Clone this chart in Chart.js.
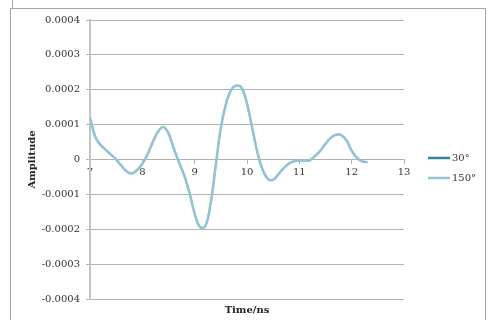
<!DOCTYPE html>
<html>
<head>
<meta charset="utf-8">
<script src="https://cdn.jsdelivr.net/npm/chart.js@4/dist/chart.umd.min.js"></script>
<style>
  html, body { margin:0; padding:0; background:#fff; }
  #wrap { width:491px; height:320px; position:relative; }
</style>
</head>
<body>
<div id="wrap"><canvas id="chart" width="491" height="320"></canvas></div>
<script>
// time (ns) and amplitude
const times = [7.0, 7.1, 7.2, 7.3, 7.4, 7.5, 7.6, 7.7, 7.8, 7.9,
  8.0, 8.1, 8.2, 8.3, 8.4, 8.5, 8.6, 8.7, 8.8, 8.9,
  9.0, 9.1, 9.2, 9.3, 9.4, 9.5, 9.6, 9.7, 9.8, 9.9,
  10.0, 10.1, 10.2, 10.3, 10.4, 10.5, 10.6, 10.7, 10.8, 10.9,
  11.0, 11.1, 11.2, 11.3, 11.4, 11.5, 11.6, 11.7, 11.8, 11.9,
  12.0, 12.1, 12.2, 12.3];
const amp150 = [1.2, 0.65, 0.42, 0.28, 0.14, 0.0, -0.18, -0.34, -0.4, -0.3,
  -0.12, 0.15, 0.5, 0.8, 0.93, 0.75, 0.32, -0.08, -0.45, -0.95,
  -1.55, -1.93, -1.92, -1.3, -0.2, 0.9, 1.6, 2.0, 2.12, 2.05,
  1.6, 0.9, 0.2, -0.3, -0.56, -0.58, -0.42, -0.25, -0.12, -0.05,
  -0.03, -0.03, -0.02, 0.1, 0.25, 0.45, 0.62, 0.71, 0.7, 0.55,
  0.25, 0.05, -0.05, -0.08];
const amp30 = amp150.slice();   // hidden under the 150° curve
const seriesNames = ['30°', '150°'];
const seriesColors = ['#31859c', '#93c4d3'];
const yTicks = [-0.0004, -0.0003, -0.0002, -0.0001, 0, 0.0001, 0.0002, 0.0003, 0.0004];

const serif = '"DejaVu Serif", serif';
const toPts = arr => arr.map((v, i) => ({ x: times[i], y: v * 1e-4 }));

// outer frame like the pasted document picture
const framePlugin = {
  id: 'frame',
  beforeDraw(chart) {
    const c = chart.ctx;
    c.save();
    c.strokeStyle = '#a6a6a6';
    c.lineWidth = 1;
    c.beginPath();
    c.moveTo(12.5, 0); c.lineTo(12.5, 8);
    c.moveTo(10.5, 330); c.lineTo(10.5, 8.5); c.lineTo(485.5, 8.5); c.lineTo(485.5, 330);
    c.stroke();
    c.restore();
  }
};

// legend on the right, drawn from the datasets
const legendPlugin = {
  id: 'sideLegend',
  afterDraw(chart) {
    const c = chart.ctx;
    c.save();
    c.font = '10px ' + serif;
    c.textBaseline = 'middle';
    chart.data.datasets.forEach((ds, i) => {
      const y = 158 + i * 20;
      c.strokeStyle = ds.borderColor;
      c.lineWidth = 2.5;
      c.beginPath(); c.moveTo(428, y); c.lineTo(450, y); c.stroke();
      c.fillStyle = '#333';
      c.fillText(ds.label, 452, y);
    });
    c.restore();
  }
};

new Chart(document.getElementById('chart'), {
  type: 'line',
  data: {
    datasets: [
      { label: seriesNames[0], data: toPts(amp30), borderColor: seriesColors[0], borderWidth: 1.5,
        pointRadius: 0, tension: 0.4, fill: false, order: 1 },
      { label: seriesNames[1], data: toPts(amp150), borderColor: seriesColors[1], borderWidth: 2.6,
        pointRadius: 0, tension: 0.4, fill: false, order: 0 }
    ]
  },
  options: {
    responsive: false,
    animation: false,
    layout: { padding: { left: 22, right: 87, top: 20, bottom: 0 } },
    plugins: { legend: { display: false }, tooltip: { enabled: false } },
    scales: {
      x: {
        type: 'linear', position: { y: 0 }, min: 7, max: 13,
        ticks: { stepSize: 1, padding: 3, color: '#333', font: { family: serif, size: 10 } },
        grid: { drawOnChartArea: false, tickLength: 4, color: '#b0b0b0' },
        border: { color: '#b0b0b0' }
      },
      x2: {
        type: 'linear', position: 'bottom', min: 7, max: 13,
        ticks: { display: false },
        grid: { display: false },
        border: { display: false },
        title: { display: true, text: 'Time/ns', color: '#222', padding: { top: 2, bottom: 4 },
          font: { family: serif, size: 10, weight: 'bold' } },
        afterFit(s) { s.height = 21; }
      },
      y: {
        min: -0.0004, max: 0.0004,
        afterBuildTicks(s) { s.ticks = yTicks.map(v => ({ value: v })); },
        ticks: {
          padding: 6, color: '#333', font: { family: serif, size: 10 },
          callback: v => Math.abs(v) < 1e-12 ? '0' : v.toFixed(4)
        },
        grid: { color: '#b3b3b3', tickLength: 4 },
        border: { color: '#c4c4c4', width: 2 },
        title: { display: true, text: 'Amplitude', color: '#222', padding: 4,
          font: { family: serif, size: 10, weight: 'bold' } },
        afterFit(s) { s.width = 68; }
      }
    }
  },
  plugins: [framePlugin, legendPlugin]
});
</script>
</body>
</html>
